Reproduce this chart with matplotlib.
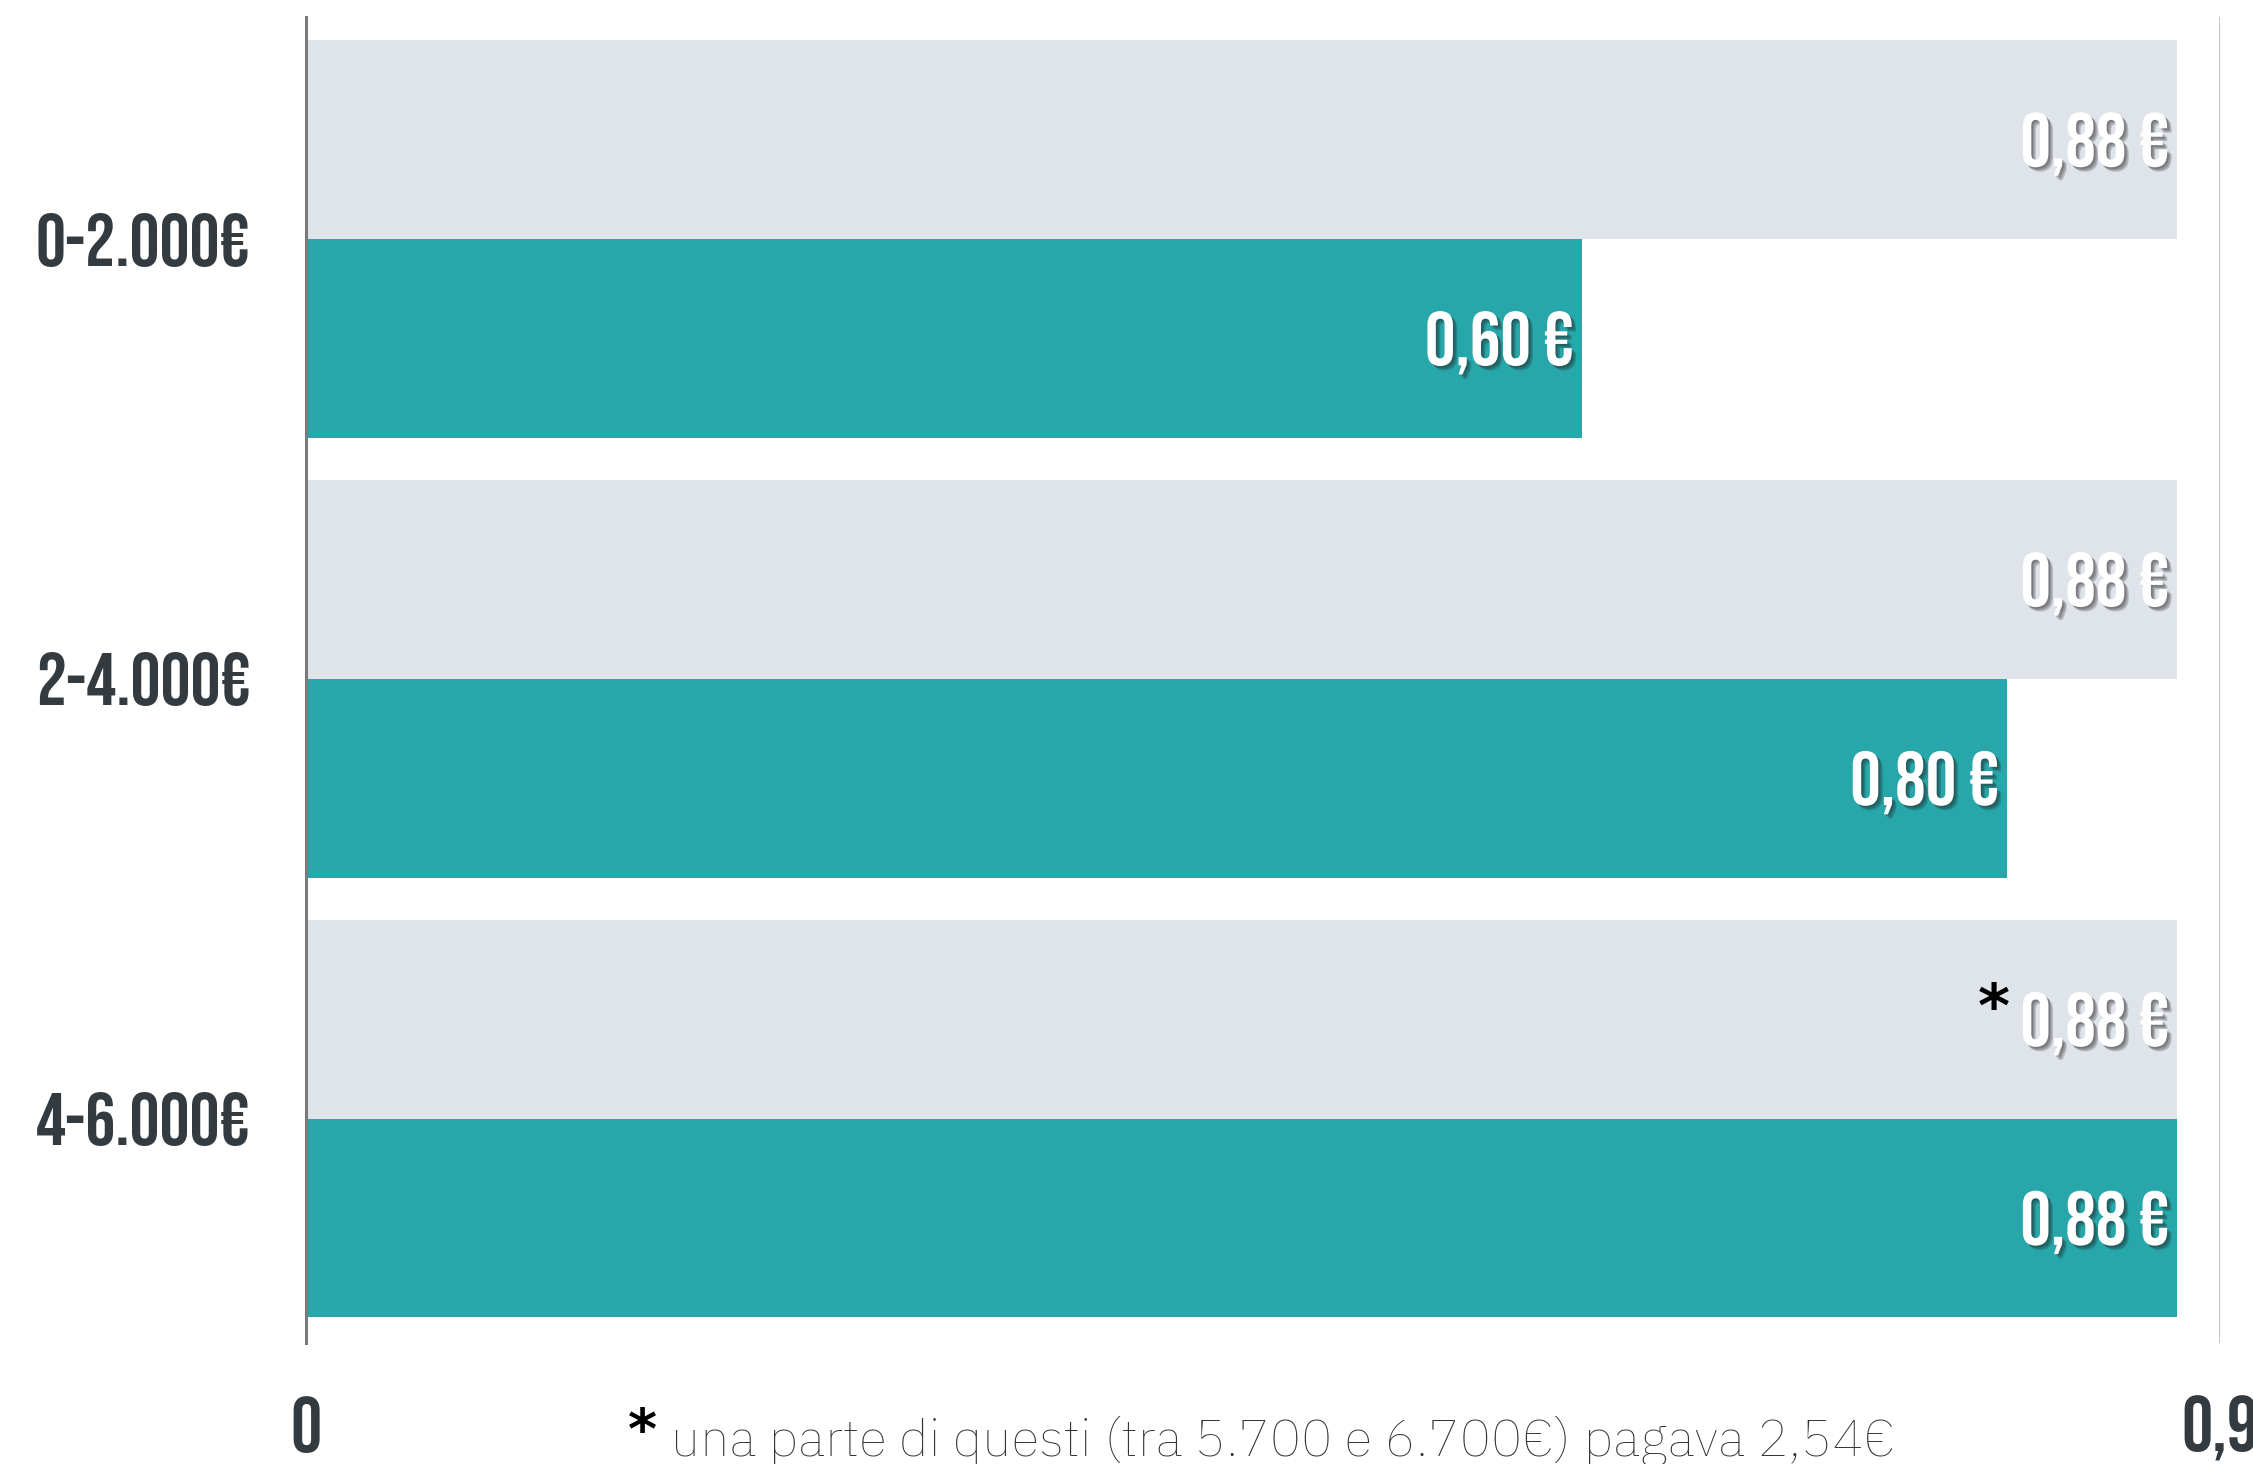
import matplotlib
matplotlib.use('Agg')
import matplotlib.pyplot as plt
import matplotlib.patheffects as pe
import numpy as np

# data
categories = ['0-2.000€', '2-4.000€', '4-6.000€']
old_price = [0.88, 0.88, 0.88]
new_price = [0.60, 0.80, 0.88]
value_labels_old = ['0,88 €', '0,88 €', '0,88 €']
value_labels_new = ['0,60 €', '0,80 €', '0,88 €']
x_ticks = [0, 0.9]
x_tick_labels = ['0', '0,9']
footnote = 'una parte di questi (tra 5.700 e 6.700€) pagava 2,54€'

bold_font = ['Bebas Neue', 'Oswald', 'DejaVu Sans']
thin_font = ['IBM Plex Sans Arabic', 'Roboto', 'DejaVu Sans']
dark = '#333b41'
gray_bar = '#dfe3ea'
teal = '#27a7aa'

fig = plt.figure(figsize=(22.53, 14.64), dpi=100)
ax = fig.add_axes([306 / 2253, 121 / 1464, 1914 / 2253, 1326 / 1464])

pos = np.arange(len(categories))
h = 0.452
ax.barh(pos - h / 2, old_price, height=h, color=gray_bar, zorder=2)
ax.barh(pos + h / 2, new_price, height=h, color=teal, zorder=2)

ax.set_xlim(0, 0.9)
ax.set_ylim(2.51, -0.505)

# value labels with a soft drop shadow
shadow = [pe.SimplePatchShadow(offset=(o, -o), shadow_rgbFace='#1e1e1e', alpha=0.22)
          for o in (1.2, 2.2, 3.2)] + [pe.Normal()]
for i in range(len(categories)):
    ax.annotate(value_labels_old[i], (old_price[i], pos[i] - h / 2), xytext=(-6, 0),
                textcoords='offset points', ha='right', va='center_baseline', color='white',
                fontsize=55, family=bold_font, path_effects=shadow, zorder=4)
    ax.annotate(value_labels_new[i], (new_price[i], pos[i] + h / 2), xytext=(-6, 0),
                textcoords='offset points', ha='right', va='center_baseline', color='white',
                fontsize=55, family=bold_font, path_effects=shadow, zorder=4)

# asterisk on the last grey bar
ax.annotate('*', (old_price[2], pos[2] - h / 2), xytext=(-132, 6),
            textcoords='offset points', ha='center', va='center', color='black',
            fontsize=44, fontweight='bold', family=['DejaVu Sans'], zorder=4)

# axes styling
ax.set_yticks(pos)
ax.set_yticklabels(categories, family=bold_font, fontsize=54, color=dark, va='center_baseline')
ax.set_xticks(x_ticks)
ax.set_xticklabels(x_tick_labels, family=bold_font, fontsize=56, color=dark)
ax.tick_params(axis='both', length=0)
ax.tick_params(axis='y', pad=40)
ax.tick_params(axis='x', pad=38)
for s in ['top', 'right', 'bottom']:
    ax.spines[s].set_visible(False)
ax.spines['left'].set_color('#7a7a7a')
ax.spines['left'].set_linewidth(2.2)
ax.spines['left'].set_zorder(5)
ax.axvline(0.9, color='#bdbdbd', linewidth=2, zorder=1)

# footnote
fig.text(628 / 2253, 16 / 1464, '*', color='black', fontsize=40, fontweight='bold',
         family=['DejaVu Sans'], ha='left', va='baseline')
fig.text(671 / 2253, 8 / 1464, footnote, color='#333333', fontsize=37.5, fontweight=100,
         family=thin_font, ha='left', va='baseline')

fig.savefig('out.png', dpi=100)
